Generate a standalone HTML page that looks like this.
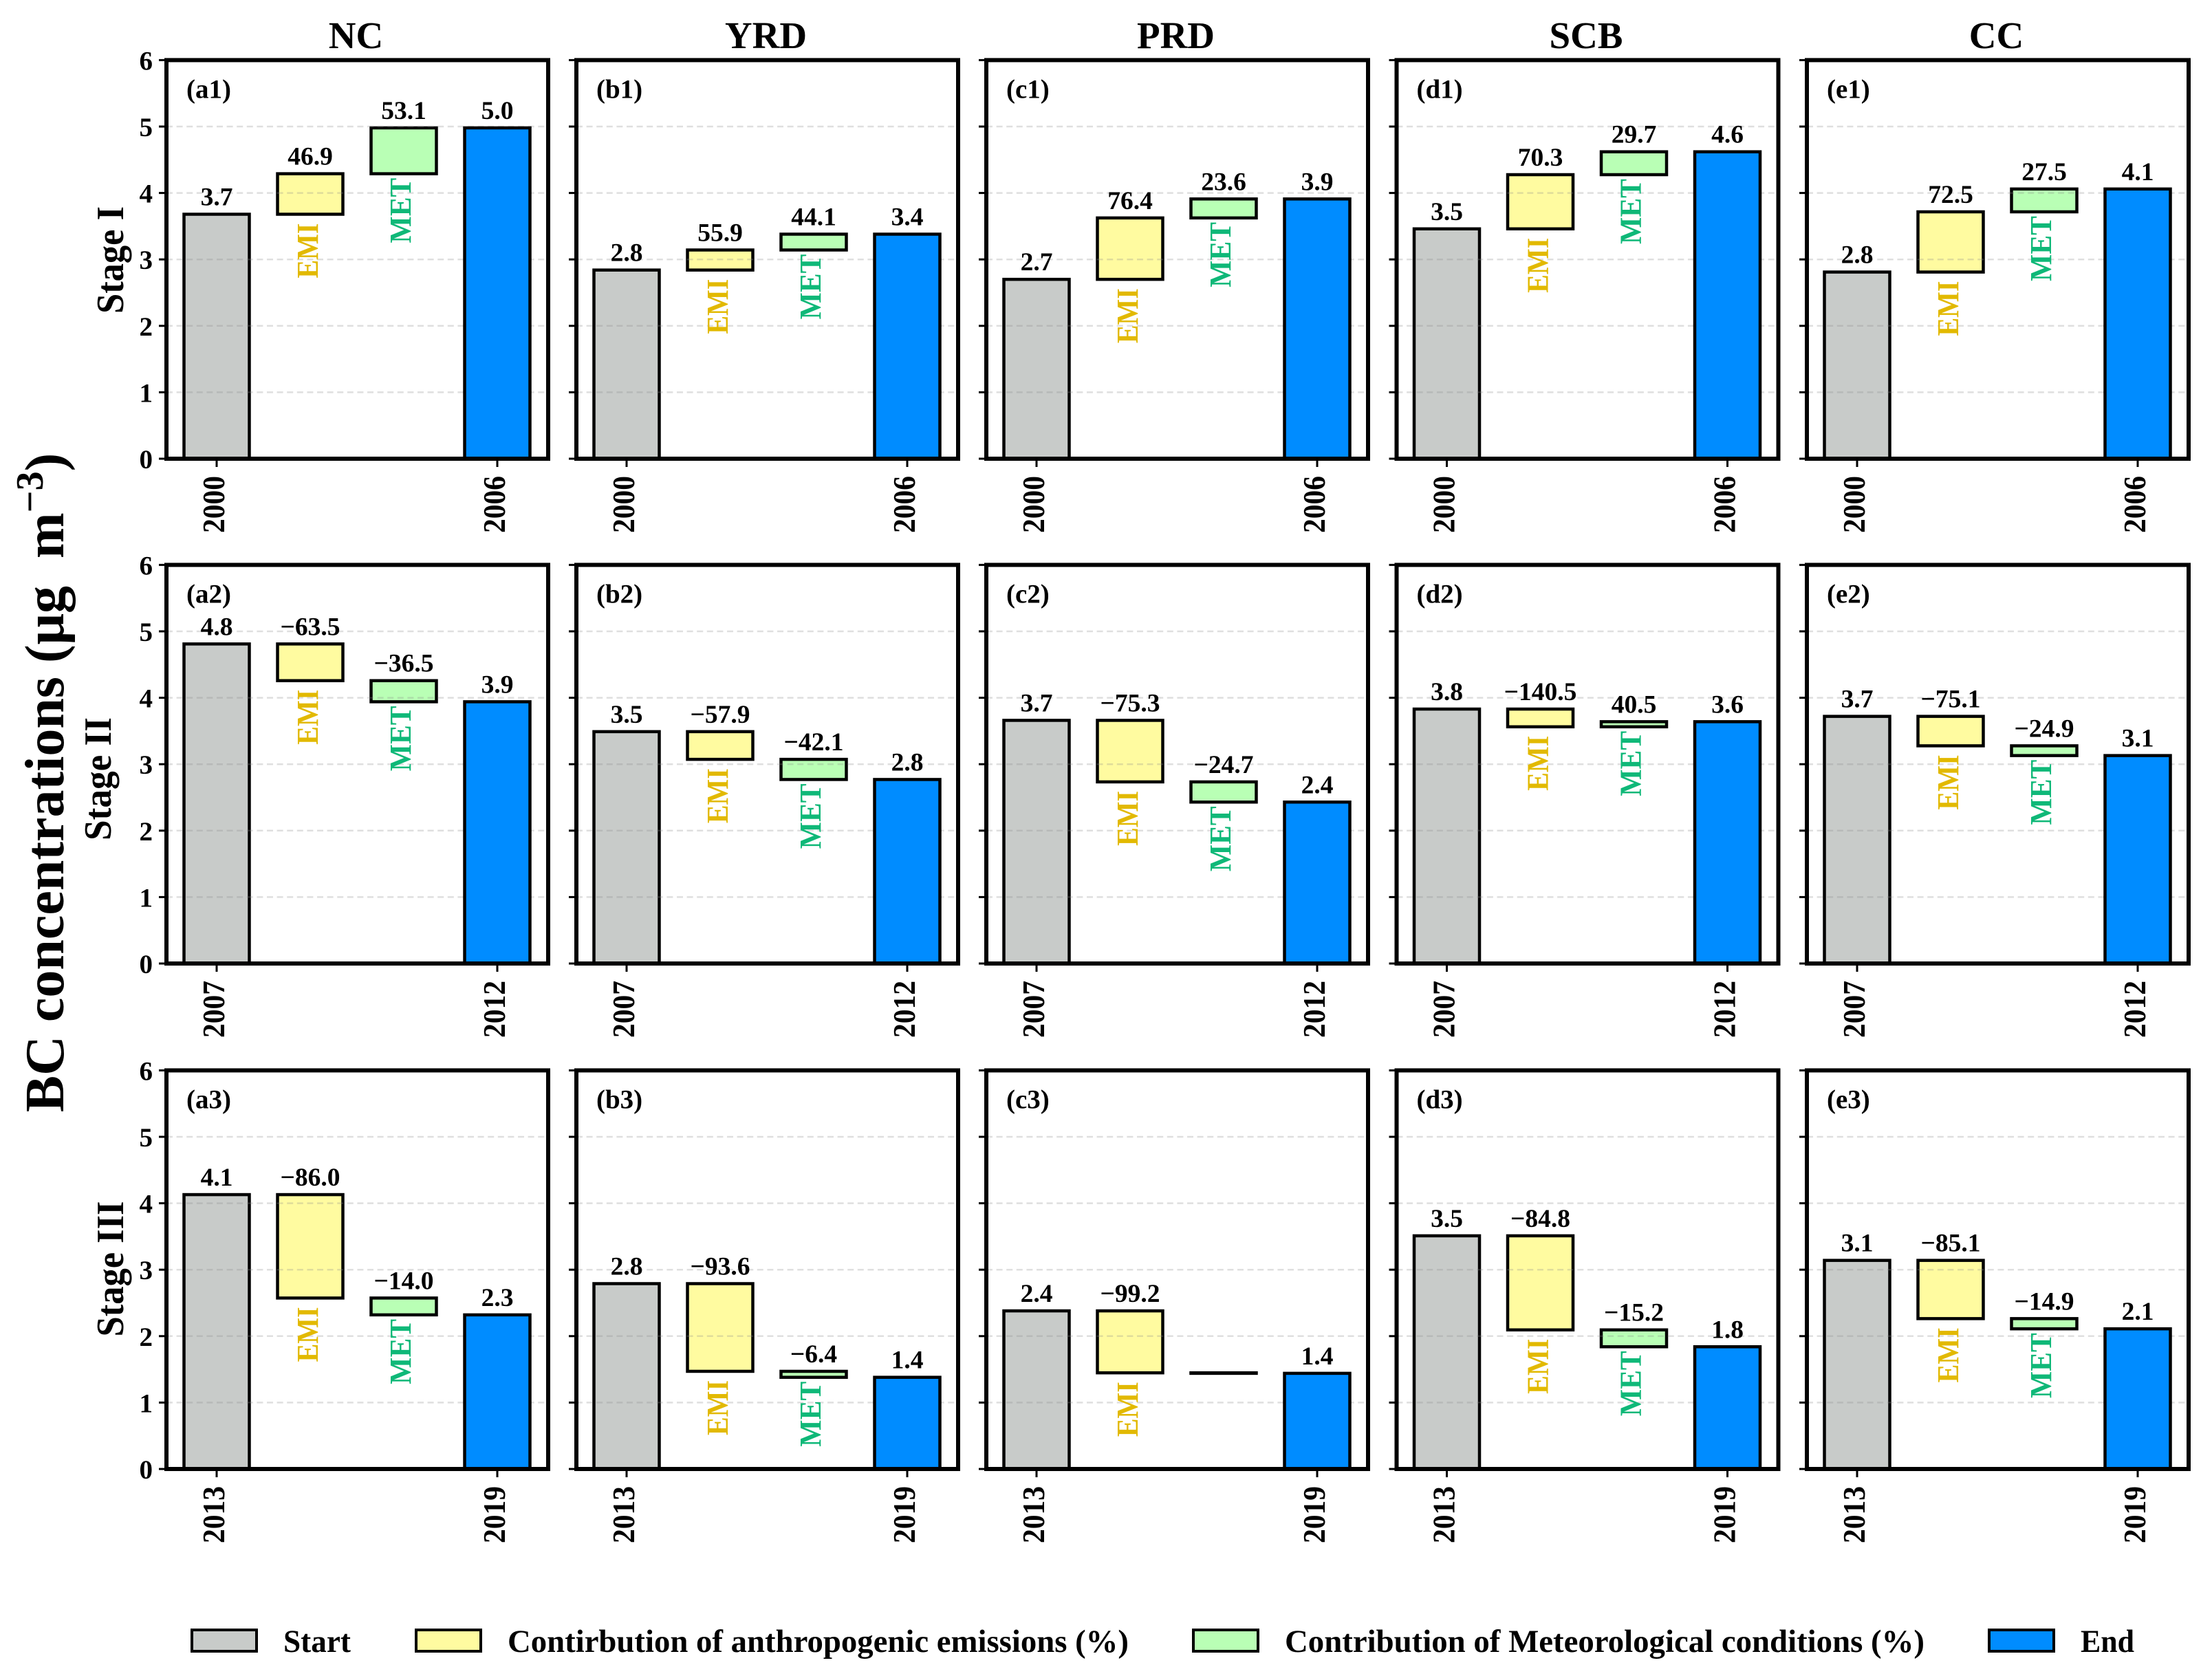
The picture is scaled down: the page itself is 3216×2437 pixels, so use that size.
<!DOCTYPE html>
<html lang="en">
<head>
<meta charset="utf-8">
<title>BC concentrations by stage and region</title>
<style>
html,body{margin:0;padding:0;background:#fff;width:3216px;height:2437px;overflow:hidden}
svg{display:block}
text{font-family:"Liberation Serif",serif;font-weight:bold;fill:#000}
</style>
</head>
<body>
<svg id="chart" xmlns="http://www.w3.org/2000/svg" width="3216" height="2437" viewBox="0 0 3216 2437"></svg>
<script>
// Chart data (row = stage, column = region)
const regions = ['NC', 'YRD', 'PRD', 'SCB', 'CC'];
const stages = ['Stage I', 'Stage II', 'Stage III'];
const panelLetters = ['a', 'b', 'c', 'd', 'e'];
const startYears = ['2000', '2007', '2013'];
const endYears = ['2006', '2012', '2019'];
const yTicks = [0, 1, 2, 3, 4, 5, 6];
const startValues = [
  [3.68, 2.84, 2.70, 3.46, 2.81],
  [4.81, 3.49, 3.66, 3.83, 3.72],
  [4.13, 2.79, 2.38, 3.51, 3.14]
];
const endValues = [
  [4.98, 3.38, 3.91, 4.62, 4.06],
  [3.94, 2.77, 2.43, 3.64, 3.13],
  [2.32, 1.38, 1.44, 1.84, 2.11]
];
const emiPercent = [
  [46.9, 55.9, 76.4, 70.3, 72.5],
  [-63.5, -57.9, -75.3, -140.5, -75.1],
  [-86.0, -93.6, -99.2, -84.8, -85.1]
];
const metPercent = [
  [53.1, 44.1, 23.6, 29.7, 27.5],
  [-36.5, -42.1, -24.7, 40.5, -24.9],
  [-14.0, -6.4, -0.8, -15.2, -14.9]
];

const NS = 'http://www.w3.org/2000/svg';
const svg = document.getElementById('chart');
const panelLeft = [242, 838, 1434, 2030.5, 2627];
const panelWidth = 555;
const rowBottom = [667, 1401, 2136];
const unit = 96.6;
const step = 136;
const barWidth = 95;
const colorStart = '#c8cbc9', colorEmi = '#fffba0', colorMet = '#b9ffb5', colorEnd = '#008cff';

function make(tag, attrs, parent, content) {
  const node = document.createElementNS(NS, tag);
  for (const k in attrs) node.setAttribute(k, attrs[k]);
  if (content !== undefined) node.textContent = content;
  (parent || svg).appendChild(node);
  return node;
}
function yScale(row, v) { return rowBottom[row] - v * unit; }
function xScale(col, i) { return panelLeft[col] + 73 + step * i; }
function fmt(v) { return (v < 0 ? '\u2212' : '') + Math.abs(v).toFixed(1); }

let el;
stages.forEach(function (stage, r) {
  const stageX = [179, 161, 179][r];
  const stageY = [378, 1132.5, 1845][r];
  const stageLen = [156, 179, 197][r];
  const stageStart = stageY + stageLen / 2;
  el = make('text', { x: stageX, y: stageStart, 'font-size': 56, textLength: stageLen, lengthAdjust: 'spacingAndGlyphs', transform: 'rotate(-90 ' + stageX + ' ' + stageStart + ')' }, svg, stage);
  
  

  regions.forEach(function (region, c) {
    const left = panelLeft[c];
    const right = left + panelWidth;
    const g = make('g', {});
    
    

    const s = startValues[r][c];
    const e = endValues[r][c];
    const change = Math.abs(e - s);
    const emiEnd = s + change * emiPercent[r][c] / 100;
    const metEnd = emiEnd + change * metPercent[r][c] / 100;

    // Start bar
    el = make('rect', { x: xScale(c, 0) - barWidth / 2, y: yScale(r, s), width: barWidth, height: s * unit, fill: colorStart, stroke: '#000', 'stroke-width': 4.5 }, g);
    
    

    // Emissions bar
    const emiTop = Math.max(s, emiEnd), emiBottom = Math.min(s, emiEnd);
    el = make('rect', { x: xScale(c, 1) - barWidth / 2, y: yScale(r, emiTop), width: barWidth, height: (emiTop - emiBottom) * unit, fill: colorEmi, stroke: '#000', 'stroke-width': 4.5 }, g);
    
    

    // Meteorology bar
    const metTop = Math.max(emiEnd, metEnd), metBottom = Math.min(emiEnd, metEnd);
    el = make('rect', { x: xScale(c, 2) - barWidth / 2, y: yScale(r, metTop), width: barWidth, height: (metTop - metBottom) * unit, fill: colorMet, stroke: '#000', 'stroke-width': 4.5 }, g);
    
    

    // Grid lines
    yTicks.forEach(function (t) {
      if (t > 0 && t < 6) {
        el = make('line', { x1: left, x2: right, y1: yScale(r, t), y2: yScale(r, t), stroke: 'rgba(140,140,140,0.28)', 'stroke-width': 2.5, 'stroke-dasharray': '9 5.6' }, g);
        
        
      }
    });

    // End bar
    el = make('rect', { x: xScale(c, 3) - barWidth / 2, y: yScale(r, e), width: barWidth, height: e * unit, fill: colorEnd, stroke: '#000', 'stroke-width': 4.5 }, g);
    
    

    // Value labels
    el = make('text', { x: xScale(c, 0), y: yScale(r, s) - 13, 'font-size': 37.5, 'text-anchor': 'middle' }, g, s.toFixed(1));
    
    

    el = make('text', { x: xScale(c, 1), y: yScale(r, emiTop) - 13, 'font-size': 37.5, 'text-anchor': 'middle' }, g, fmt(emiPercent[r][c]));
    
    

    if (Math.abs(metPercent[r][c]) >= 1) {
      el = make('text', { x: xScale(c, 2), y: yScale(r, metTop) - 13, 'font-size': 37.5, 'text-anchor': 'middle' }, g, fmt(metPercent[r][c]));
      
      
    }

    el = make('text', { x: xScale(c, 3), y: yScale(r, e) - 13, 'font-size': 37.5, 'text-anchor': 'middle' }, g, e.toFixed(1));
    
    

    // EMI / MET tags
    const emiTagX = xScale(c, 1) + 11, emiTagY = yScale(r, emiBottom) + 13 + 80;
    el = make('text', { x: emiTagX, y: emiTagY, 'font-size': 44, textLength: 80, lengthAdjust: 'spacingAndGlyphs', transform: 'rotate(-90 ' + emiTagX + ' ' + emiTagY + ')', style: 'fill:#e2b900' }, g, 'EMI');
    
    

    if (Math.abs(metPercent[r][c]) >= 1) {
      const metTagX = xScale(c, 2) + 10, metTagY = yScale(r, metBottom) + 6 + 95;
      el = make('text', { x: metTagX, y: metTagY, 'font-size': 44, textLength: 95, lengthAdjust: 'spacingAndGlyphs', transform: 'rotate(-90 ' + metTagX + ' ' + metTagY + ')', style: 'fill:#0fb878' }, g, 'MET');
      
      
    }

    // Frame
    el = make('rect', { x: left, y: yScale(r, 6), width: panelWidth, height: 6 * unit, fill: 'none', stroke: '#000', 'stroke-width': 6 }, g);
    
    

    // Y ticks
    yTicks.forEach(function (t) {
      el = make('line', { x1: left - 11, x2: left, y1: yScale(r, t), y2: yScale(r, t), stroke: '#000', 'stroke-width': 3 }, g);
      
      
      if (c === 0) {
        el = make('text', { x: left - 20, y: yScale(r, t) + 14, 'font-size': 39, 'text-anchor': 'end' }, g, String(t));
        
        
      }
    });

    // X ticks and labels
    [[0, startYears[r]], [3, endYears[r]]].forEach(function (pair) {
      const tx = xScale(c, pair[0]);
      el = make('line', { x1: tx, x2: tx, y1: rowBottom[r], y2: rowBottom[r] + 12, stroke: '#000', 'stroke-width': 3 }, g);
      
      
      const lx = tx + 11, ly = rowBottom[r] + 25 + 83;
      el = make('text', { x: lx, y: ly, 'font-size': 46, textLength: 83, lengthAdjust: 'spacingAndGlyphs', transform: 'rotate(-90 ' + lx + ' ' + ly + ')' }, g, pair[1]);
      
      
    });

    // Panel letter
    el = make('text', { x: left + 29, y: yScale(r, 6) + 55, 'font-size': 39 }, g, '(' + panelLetters[c] + (r + 1) + ')');
    
    

    // Column title
    if (r === 0) {
      el = make('text', { x: left + panelWidth / 2 - 2, y: 70, 'font-size': 55, 'text-anchor': 'middle' }, svg, region);
      
      
    }
  });
});

// Main y-axis title
el = make('text', { x: 92, y: 1138, 'font-size': 80, 'text-anchor': 'middle', transform: 'rotate(-90 92 1138)' });


make('tspan', {}, el, 'BC concentrations (\u03bcg\u00a0\u00a0m');
make('tspan', { 'font-size': 56, dy: -30 }, el, '\u22123');
make('tspan', { dy: 30 }, el, ')');

// Legend
const legendSwatches = [[279, colorStart], [605, colorEmi], [1735, colorMet], [2892, colorEnd]];
const legendLabels = [
  ['Start', 412, 98],
  ['Contirbution of anthropogenic emissions (%)', 738, 903],
  ['Contribution of Meteorological conditions (%)', 1868, 930],
  ['End', 3025, 78]
];
const legend = make('g', {});


legendSwatches.forEach(function (sw, i) {
  el = make('rect', { x: sw[0], y: 2370, width: 94, height: 31, fill: sw[1], stroke: '#000', 'stroke-width': 4 }, legend);
  
  
  const lab = legendLabels[i];
  el = make('text', { x: lab[1], y: 2402, 'font-size': 47, textLength: lab[2], lengthAdjust: 'spacingAndGlyphs' }, legend, lab[0]);
  
  
});
</script>
</body>
</html>
